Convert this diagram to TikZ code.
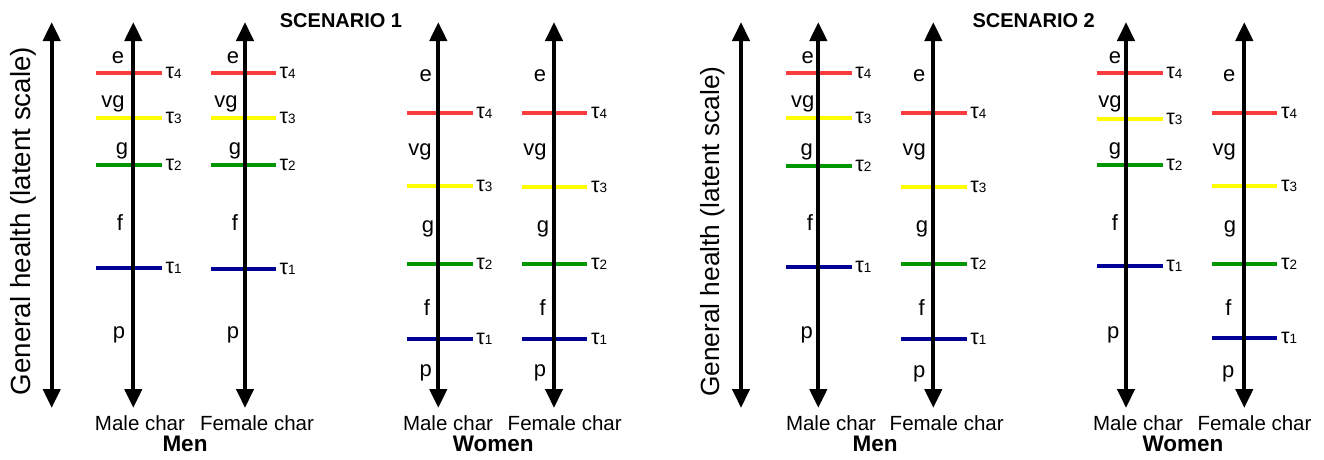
\documentclass[tikz,border=0pt]{standalone}
\usepackage{fontspec}
\setmainfont{Liberation Sans}
\usetikzlibrary{arrows.meta}

\definecolor{cutred}{RGB}{255,60,60}
\definecolor{cutyellow}{RGB}{255,255,0}
\definecolor{cutgreen}{RGB}{0,150,0}
\definecolor{cutblue}{RGB}{0,0,150}

\tikzset{
  axisarrow/.style={line width=4.2pt,
    {Triangle[width=17pt,length=19pt]}-{Triangle[width=17pt,length=19pt]}},
  cutline/.style={line width=4pt},
  taulabel/.style={anchor=west, inner xsep=3.5pt, inner ysep=0pt,
    font=\fontsize{21.5}{21.5}\selectfont},
  catlabel/.style={anchor=base, inner sep=0pt, font=\fontsize{22}{22}\selectfont},
  charlabel/.style={anchor=base, inner sep=0pt, font=\fontsize{20.5}{20.5}\selectfont},
  grouplabel/.style={anchor=base, inner sep=0pt, font=\bfseries\fontsize{22.5}{22.5}\selectfont},
  titlelabel/.style={anchor=base, inner sep=0pt, font=\bfseries\fontsize{20}{20}\selectfont},
  scalelabel/.style={rotate=90, inner sep=0pt},
}

% threshold: name, left x, right x, y, colour, index
\newcommand\Cut[6]{%
  \coordinate (#1) at (#2,#4);
  \node[taulabel] (#1-lab) at (#3,#4) {τ{\fontsize{13.5}{13.5}\selectfont #6}};
  \draw[cutline,#5] (#1) -- (#1-lab.west);
}
% latent axis: name, x
\newcommand\Axis[2]{%
  \coordinate (#1-top) at (#2,22);
  \coordinate (#1-bot) at (#2,408);
  \draw[axisarrow] (#1-top) -- (#1-bot);
}

\begin{document}
\begin{tikzpicture}[x=1pt,y=-1pt]
\useasboundingbox[fill=white] (0,0) rectangle (1324,459);

% ---------------- Scenario 1 ----------------
\node[titlelabel] (s1title) at (341,27.3) {SCENARIO 1};
\coordinate (s1l-top) at (51.7,22);
\coordinate (s1l-bot) at (51.7,408);
\draw[axisarrow] (s1l-top) -- (s1l-bot);
\node[scalelabel, font=\fontsize{27.7}{27.7}\selectfont] (s1scale) at (23,221)
  {General health (latent scale)};

% men, male characteristics
\Cut{a4}{96}{162}{73.3}{cutred}{4}
\Cut{a3}{96}{162}{118.3}{cutyellow}{3}
\Cut{a2}{96}{162}{165}{cutgreen}{2}
\Cut{a1}{96}{162}{268.3}{cutblue}{1}
\Axis{a}{133.3}
\node[catlabel] (a-e) at (118,63) {e};
\node[catlabel] (a-vg) at (113,107.5) {vg};
\node[catlabel] (a-g) at (122,154.5) {g};
\node[catlabel] (a-f) at (120,230) {f};
\node[catlabel] (a-p) at (119,338) {p};
\node[charlabel] (a-char) at (140,430) {Male char};

% men, female characteristics
\Cut{b4}{211}{276}{73.3}{cutred}{4}
\Cut{b3}{211}{276}{118.3}{cutyellow}{3}
\Cut{b2}{211}{276}{165}{cutgreen}{2}
\Cut{b1}{211}{276}{269.3}{cutblue}{1}
\Axis{b}{245}
\node[catlabel] (b-e) at (233,63) {e};
\node[catlabel] (b-vg) at (226,107.5) {vg};
\node[catlabel] (b-g) at (235,154.5) {g};
\node[catlabel] (b-f) at (235,230) {f};
\node[catlabel] (b-p) at (233,338) {p};
\node[charlabel] (b-char) at (257,430) {Female char};
\node[grouplabel] (s1men) at (185,451.7) {Men};

% women, male characteristics
\Cut{c4}{407.3}{472.7}{113.3}{cutred}{4}
\Cut{c3}{407.3}{472.7}{186}{cutyellow}{3}
\Cut{c2}{407.3}{472.7}{264.3}{cutgreen}{2}
\Cut{c1}{407.3}{472.7}{338.7}{cutblue}{1}
\Axis{c}{438.3}
\node[catlabel] (c-e) at (425.7,81.5) {e};
\node[catlabel] (c-vg) at (420,155.5) {vg};
\node[catlabel] (c-g) at (428,232.5) {g};
\node[catlabel] (c-f) at (427,315) {f};
\node[catlabel] (c-p) at (425.7,376.5) {p};
\node[charlabel] (c-char) at (448,430) {Male char};

% women, female characteristics
\Cut{d4}{522.3}{587.3}{113.3}{cutred}{4}
\Cut{d3}{522.3}{587.3}{187}{cutyellow}{3}
\Cut{d2}{522.3}{587.3}{264.3}{cutgreen}{2}
\Cut{d1}{522.3}{587.3}{338.7}{cutblue}{1}
\Axis{d}{554}
\node[catlabel] (d-e) at (540,81.5) {e};
\node[catlabel] (d-vg) at (535,155.5) {vg};
\node[catlabel] (d-g) at (543,232.5) {g};
\node[catlabel] (d-f) at (542.7,315) {f};
\node[catlabel] (d-p) at (540,376.5) {p};
\node[charlabel] (d-char) at (564.7,430) {Female char};
\node[grouplabel] (s1women) at (493.3,451.7) {Women};

% ---------------- Scenario 2 ----------------
\node[titlelabel] (s2title) at (1033.7,27.3) {SCENARIO 2};
\coordinate (s2l-top) at (741,22);
\coordinate (s2l-bot) at (741,408);
\draw[axisarrow] (s2l-top) -- (s2l-bot);
\node[scalelabel, font=\fontsize{26.3}{26.3}\selectfont] (s2scale) at (712.5,231.7)
  {General health (latent scale)};

% men, male characteristics
\Cut{e4}{786}{851.7}{73.3}{cutred}{4}
\Cut{e3}{786}{851.7}{117.7}{cutyellow}{3}
\Cut{e2}{786}{851.7}{165.7}{cutgreen}{2}
\Cut{e1}{786}{851.7}{266.7}{cutblue}{1}
\Axis{e}{818.3}
\node[catlabel] (e-e) at (807.7,63) {e};
\node[catlabel] (e-vg) at (802.7,107.5) {vg};
\node[catlabel] (e-g) at (806.7,155.5) {g};
\node[catlabel] (e-f) at (810,230) {f};
\node[catlabel] (e-p) at (806.7,338) {p};
\node[charlabel] (e-char) at (831,430) {Male char};

% men, female characteristics
\Cut{f4}{901}{966.7}{112.7}{cutred}{4}
\Cut{f3}{901}{966.7}{186.7}{cutyellow}{3}
\Cut{f2}{901}{966.7}{264.3}{cutgreen}{2}
\Cut{f1}{901}{966.7}{339.3}{cutblue}{1}
\Axis{f}{933.3}
\node[catlabel] (f-e) at (919.3,81.5) {e};
\node[catlabel] (f-vg) at (914.3,155.5) {vg};
\node[catlabel] (f-g) at (922,232.5) {g};
\node[catlabel] (f-f) at (921.7,315) {f};
\node[catlabel] (f-p) at (919.3,377) {p};
\node[charlabel] (f-char) at (946.7,430) {Female char};
\node[grouplabel] (s2men) at (875,451.7) {Men};

% women, male characteristics
\Cut{g4}{1097.3}{1162.7}{72.7}{cutred}{4}
\Cut{g3}{1097.3}{1162.7}{119}{cutyellow}{3}
\Cut{g2}{1097.3}{1162.7}{165}{cutgreen}{2}
\Cut{g1}{1097.3}{1162.7}{265.7}{cutblue}{1}
\Axis{g}{1126}
\node[catlabel] (g-e) at (1115,63) {e};
\node[catlabel] (g-vg) at (1110,107.5) {vg};
\node[catlabel] (g-g) at (1115,154.5) {g};
\node[catlabel] (g-f) at (1115,230) {f};
\node[catlabel] (g-p) at (1113.3,338) {p};
\node[charlabel] (g-char) at (1138,430) {Male char};

% women, female characteristics
\Cut{h4}{1212.3}{1277.3}{112.7}{cutred}{4}
\Cut{h3}{1212.3}{1277.3}{185.7}{cutyellow}{3}
\Cut{h2}{1212.3}{1277.3}{264}{cutgreen}{2}
\Cut{h1}{1212.3}{1277.3}{337.7}{cutblue}{1}
\Axis{h}{1244.3}
\node[catlabel] (h-e) at (1229.3,81.5) {e};
\node[catlabel] (h-vg) at (1224.3,155.5) {vg};
\node[catlabel] (h-g) at (1230,232.5) {g};
\node[catlabel] (h-f) at (1228.3,315) {f};
\node[catlabel] (h-p) at (1228.3,377) {p};
\node[charlabel] (h-char) at (1254.5,430) {Female char};
\node[grouplabel] (s2women) at (1183,451.7) {Women};
\end{tikzpicture}
\end{document}
